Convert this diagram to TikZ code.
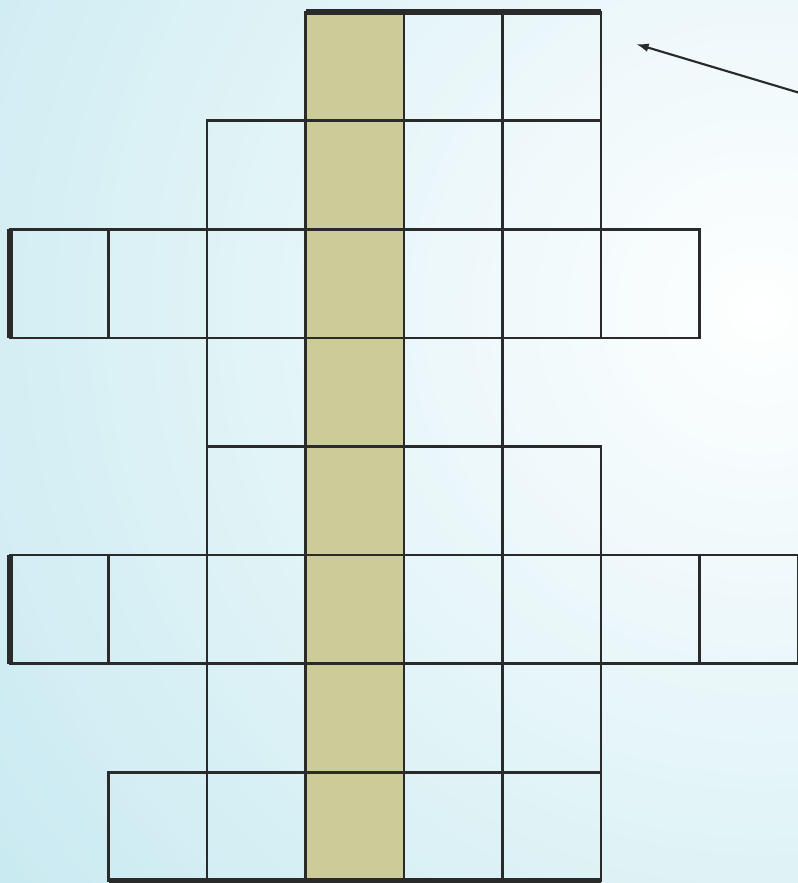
\documentclass[tikz,border=0pt]{standalone}
\usetikzlibrary{arrows.meta}
\definecolor{bgblue}{RGB}{201,234,241}
\definecolor{colkhaki}{RGB}{204,204,153}
\definecolor{gridline}{RGB}{42,42,42}
\tikzset{
  cell/.style={draw=gridline,line width=1.9pt},
  edge/.style={draw=gridline,line width=4.2pt},
}
\newcommand{\cw}{98.5}
\newcommand{\ch}{108.625}
\begin{document}
\begin{tikzpicture}[>={Latex[length=9.5pt,width=6.5pt]},x=0.75pt,y=-0.75pt]
	\useasboundingbox (0,0) rectangle (798,883);
	% background glow
	\begin{scope}
		\clip (0,0) rectangle (798,883);
		\fill[bgblue] (0,0) rectangle (798,883);
		\foreach \i in {60,...,1}{
			\pgfmathsetmacro{\pct}{\i*100/60}
			\fill[bgblue!\pct!white] (760,310) circle (\i*16);
		}
	\end{scope}
	% highlighted column
	\fill[colkhaki] (10+3*\cw,12) rectangle (10+4*\cw,12+8*\ch);
	% cells row/first/last
	\foreach \r/\a/\b in {0/3/5,1/2/5,2/0/6,3/2/4,4/2/5,5/0/7,6/2/5,7/1/5}{
		\foreach \c in {\a,...,\b}{
			\draw[cell] (10+\c*\cw,12+\r*\ch) rectangle ++(\cw,\ch);
		}
	}
	% heavy borders
	\draw[edge] (10+3*\cw,12) -- (10+6*\cw,12);
	\draw[edge] (10,12+2*\ch) -- (10,12+3*\ch);
	\draw[edge] (10,12+5*\ch) -- (10,12+6*\ch);
	\draw[edge] (10+\cw,12+8*\ch) -- (10+6*\cw,12+8*\ch);
	% pointer
	\coordinate (tail) at (800,93);
	\coordinate (head) at (636,44);
	\draw[->,draw=gridline,line width=1.6pt] (tail) -- (head);
\end{tikzpicture}
\end{document}
